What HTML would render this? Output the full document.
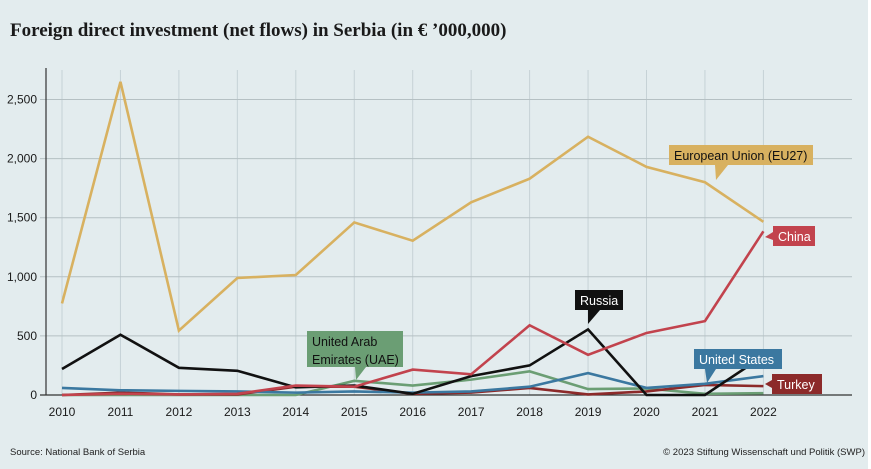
<!DOCTYPE html>
<html><head><meta charset="utf-8"><style>
body{margin:0;background:#fff;}
#wrap{position:relative;width:871px;height:469px;background:#fff;font-family:"Liberation Sans",sans-serif;}
svg{position:absolute;left:0;top:0;}
</style></head><body>
<div id="wrap">
<svg id="chart" width="871" height="469"></svg>
</div>
<script>
const years = [2010,2011,2012,2013,2014,2015,2016,2017,2018,2019,2020,2021,2022];
const yTicks = [0,500,1000,1500,2000,2500];
const yTickLabels = ["0","500","1,000","1,500","2,000","2,500"];
const euValues = [775,2650,545,990,1015,1460,1305,1630,1830,2185,1930,1800,1465];
const chinaValues = [0,10,5,10,80,70,215,175,590,340,525,625,1385];
const russiaValues = [220,510,230,205,65,80,10,160,250,555,0,0,330];
const usValues = [60,40,35,30,20,30,20,30,70,185,60,95,160];
const uaeValues = [0,0,0,0,0,120,80,130,200,50,55,10,15];
const turkeyValues = [0,20,5,5,70,70,10,20,60,5,30,85,75];

const NS="http://www.w3.org/2000/svg";
const svg=document.getElementById('chart');
const x=i=>62+i*58.45;
const y=v=>395-v*0.1182;
function mk(tag,attrs,parent){const e=document.createElementNS(NS,tag);for(const k in attrs)e.setAttribute(k,attrs[k]);(parent||svg).appendChild(e);return e;}

const bg=mk('rect',{x:0,y:0,width:868,height:469,fill:'#e3ecee'});



const title=mk('text',{x:10,y:36,'font-family':'"Liberation Serif",serif','font-weight':'bold','font-size':'19',fill:'#1a1a1a'});
title.textContent="Foreign direct investment (net flows) in Serbia (in € ’000,000)";



years.forEach((yr,i)=>{
  const g=mk('line',{x1:x(i),x2:x(i),y1:70,y2:395,stroke:'#c6d2d6','stroke-width':1});
  
  
  const t=mk('text',{x:x(i),y:416,'text-anchor':'middle','font-size':'12',fill:'#1a1a1a'});
  t.textContent=yr;
  
  
});
yTicks.forEach((v,i)=>{
  const g=mk('line',{x1:40,x2:852,y1:y(v),y2:y(v),stroke:v===0?'#333':'#b5c0c3','stroke-width':v===0?1.2:1});
  
  
  const t=mk('text',{x:37,y:y(v)+4,'text-anchor':'end','font-size':'12',fill:'#1a1a1a'});
  t.textContent=yTickLabels[i];
  
  
});
const ax=mk('line',{x1:46,x2:46,y1:68,y2:395,stroke:'#333','stroke-width':1.2});



const series=[
 ['uae-line',uaeValues,'#6b9e74'],
 ['turkey-line',turkeyValues,'#8c2a2a'],
 ['us-line',usValues,'#3b78a0'],
 ['russia-line',russiaValues,'#111'],
 ['china-line',chinaValues,'#c2434d'],
 ['eu-line',euValues,'#d8b160']
];
series.forEach(([name,vals,col])=>{
  const p=mk('polyline',{points:vals.map((v,i)=>x(i)+','+y(v)).join(' '),fill:'none',stroke:col,'stroke-width':2.6,'stroke-linejoin':'miter'});
  
  
});

function label(name,lines,lx,ly,w,h,bgc,fc,tail){
  const g=mk('g',{});
  
  
  mk('polygon',{points:tail,fill:bgc},g);
  mk('rect',{x:lx,y:ly,width:w,height:h,fill:bgc},g);
  lines.forEach((s,i)=>{const t=mk('text',{x:lx+5,y:ly+15+i*18,'font-size':'12.5',fill:fc},g);t.textContent=s;});
}
label('eu-label',['European Union (EU27)'],669,145,144,20,'#d8b160','#111','715,165,728,165,716,180');
label('china-label',['China'],773,226,42,20,'#c2434d','#fff','773,232,773,240,765,237');
label('russia-label',['Russia'],575,290,48,20,'#111','#fff','588,310,600,310,588,324');
label('uae-label',['United Arab','Emirates (UAE)'],307,331,96,36,'#6b9e74','#111','355,367,366,367,356,380');
label('us-label',['United States'],694,349,88,20,'#3b78a0','#fff','705,369,716,369,707,383');
label('turkey-label',['Turkey'],772,374,50,20,'#8c2a2a','#fff','772,380,772,388,765,384');

const src=mk('text',{x:10,y:455,'font-size':'9.5',fill:'#222'});
src.textContent="Source: National Bank of Serbia";


const cp=mk('text',{x:865,y:455,'text-anchor':'end','font-size':'9.5',fill:'#222'});
cp.textContent="© 2023 Stiftung Wissenschaft und Politik (SWP)";


</script>
</body></html>
